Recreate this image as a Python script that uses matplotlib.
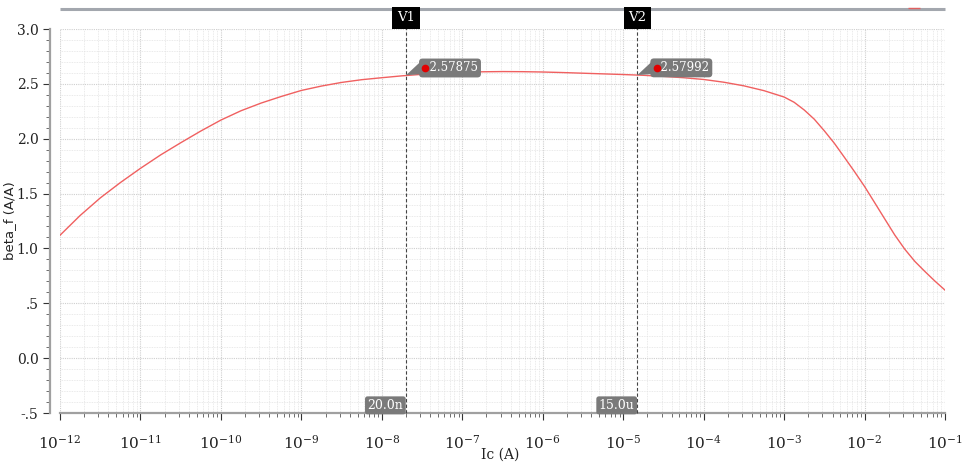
import numpy as np
import matplotlib
matplotlib.use("Agg")
import matplotlib.pyplot as plt
from matplotlib.ticker import LogLocator, MultipleLocator, FixedLocator, NullFormatter
import matplotlib.transforms as mtransforms
from matplotlib.patches import Polygon

# ---- data ----
log_ic = [-12.0, -11.75, -11.5, -11.25, -11.0, -10.75, -10.5, -10.25, -10.0,
          -9.75, -9.5, -9.25, -9.0, -8.75, -8.5, -8.25, -8.0, -7.75, -7.5,
          -7.25, -7.0, -6.75, -6.5, -6.25, -6.0, -5.75, -5.5, -5.25, -5.0,
          -4.75, -4.5, -4.25, -4.0, -3.75, -3.5, -3.25, -3.0, -2.875, -2.75,
          -2.625, -2.5, -2.375, -2.25, -2.125, -2.0, -1.875, -1.75, -1.625,
          -1.5, -1.375, -1.25, -1.125, -1.0]
beta_f = [1.12, 1.30, 1.46, 1.60, 1.73, 1.852, 1.963, 2.07, 2.17,
          2.255, 2.325, 2.385, 2.44, 2.48, 2.513, 2.538, 2.556, 2.573, 2.587,
          2.598, 2.605, 2.610, 2.612, 2.611, 2.608, 2.603, 2.597, 2.591, 2.585,
          2.578, 2.568, 2.556, 2.540, 2.515, 2.482, 2.438, 2.380, 2.332, 2.262,
          2.178, 2.072, 1.958, 1.830, 1.700, 1.565, 1.418, 1.270, 1.123,
          0.993, 0.882, 0.790, 0.702, 0.620]
ic = [10.0 ** v for v in log_ic]

cursor_x = [2.0e-8, 1.5e-5]
cursor_names = ["V1", "V2"]
cursor_xlabels = ["20.0n", "15.0u"]
cursor_values = [2.57875, 2.57992]

xtick_exp = list(range(-12, 0))
ytick_vals = [-0.5, 0.0, 0.5, 1.0, 1.5, 2.0, 2.5, 3.0]
ytick_labels = ["-.5", "0.0", ".5", "1.0", "1.5", "2.0", "2.5", "3.0"]

# ---- figure ----
plt.rcParams['font.family'] = ['DejaVu Serif']
plt.rcParams['mathtext.fontset'] = 'dejavuserif'

W, H = 964, 465
fig = plt.figure(figsize=(W / 100, H / 100), dpi=100)
ax = fig.add_axes([60 / W, 1 - 413 / H, (945 - 60) / W, (413 - 29) / H])

ax.plot(ic, beta_f, color="#f06060", lw=1.0, zorder=3)

ax.set_xscale("log")
ax.set_xlim(1e-12, 1e-1)
ax.set_ylim(-0.5, 3.0)

ax.xaxis.set_major_locator(FixedLocator([10.0 ** e for e in xtick_exp]))
ax.set_xticklabels([r"$10^{%d}$" % e for e in xtick_exp], fontsize=11)
ax.xaxis.set_minor_locator(LogLocator(base=10, subs=np.arange(2, 10), numticks=100))
ax.xaxis.set_minor_formatter(NullFormatter())

ax.yaxis.set_major_locator(FixedLocator(ytick_vals))
ax.set_yticklabels(ytick_labels, fontsize=11)
ax.yaxis.set_minor_locator(MultipleLocator(0.1))

ax.grid(which="major", color="#cfcfcf", linestyle=(0, (1, 1)), lw=0.8)
ax.grid(which="minor", color="#e3e3e3", linestyle=(0, (1, 1)), lw=0.6)

for s in ["top", "right"]:
    ax.spines[s].set_visible(False)
ax.spines["left"].set_position(("outward", 7))
ax.spines["left"].set_color("#a0a0a0")
ax.spines["left"].set_linewidth(1.6)
ax.spines["bottom"].set_color("#a0a0a0")
ax.spines["bottom"].set_linewidth(1.6)

ax.tick_params(axis="both", which="major", colors="#333333", length=5, width=0.8, labelcolor="#222222")
ax.tick_params(axis="both", which="minor", colors="#555555", length=3, width=0.6)
ax.tick_params(axis="x", pad=10)

ax.set_xlabel("Ic (A)", fontsize=10, family="DejaVu Serif", color="#222222")
ax.xaxis.set_label_coords((500 - 60) / 885, (413 - 448) / 384)
ax.set_ylabel("beta_f (A/A)", fontsize=9.5, family="DejaVu Sans", color="#222222")
ax.yaxis.set_label_coords((16 - 60) / 885, 0.5)

# top scroll bar decoration
ax.plot([0, 1], [1.052, 1.052], transform=ax.transAxes, color="#a3a7ae", lw=2.2,
        clip_on=False, solid_capstyle="butt")
ax.plot([0.958, 0.972], [1.054, 1.054], transform=ax.transAxes, color="#e06060", lw=1.0,
        clip_on=False, solid_capstyle="butt")

gray = "#7a7a7a"
trans = mtransforms.blended_transform_factory(ax.transData, ax.transAxes)
for xc, name, xl, val in zip(cursor_x, cursor_names, cursor_xlabels, cursor_values):
    ax.plot([xc, xc], [0, 1.05], transform=trans, color="#444444", lw=0.8,
            linestyle=(0, (3, 2)), clip_on=False, zorder=4)
    ax.text(xc, 1.029, name, transform=trans, ha="center", va="center", fontsize=9.5,
            color="white", bbox=dict(boxstyle="square,pad=0.35", fc="black", ec="none"), zorder=6)
    ax.annotate(xl, xy=(xc, 0), xycoords=trans, xytext=(-2, 5.5), textcoords="offset points",
                ha="right", va="center", fontsize=9, color="white",
                bbox=dict(boxstyle="round,pad=0.2,rounding_size=0.2", fc=gray, ec="none"), zorder=6)
    # value callout
    ax.annotate("  " + "%.5f" % val, xy=(xc, val), xytext=(11.5, 5.2), textcoords="offset points",
                ha="left", va="center", fontsize=8.5, color="white",
                bbox=dict(boxstyle="round,pad=0.25,rounding_size=0.3", fc=gray, ec="none"), zorder=6)
    px, py = ax.transData.transform((xc, val))
    tri = Polygon([[px, py], [px + 15, py + 14], [px + 15, py + 1]], closed=True,
                  transform=mtransforms.IdentityTransform(), fc=gray, ec="none", zorder=6,
                  clip_on=False)
    ax.add_patch(tri)
    off = mtransforms.offset_copy(ax.transData, fig=fig, x=14.0, y=5.2, units="points")
    ax.plot([xc], [val], marker="o", ms=4.5, color="#e00000", transform=off, zorder=7, clip_on=False)

fig.savefig("out.png", dpi=100)
